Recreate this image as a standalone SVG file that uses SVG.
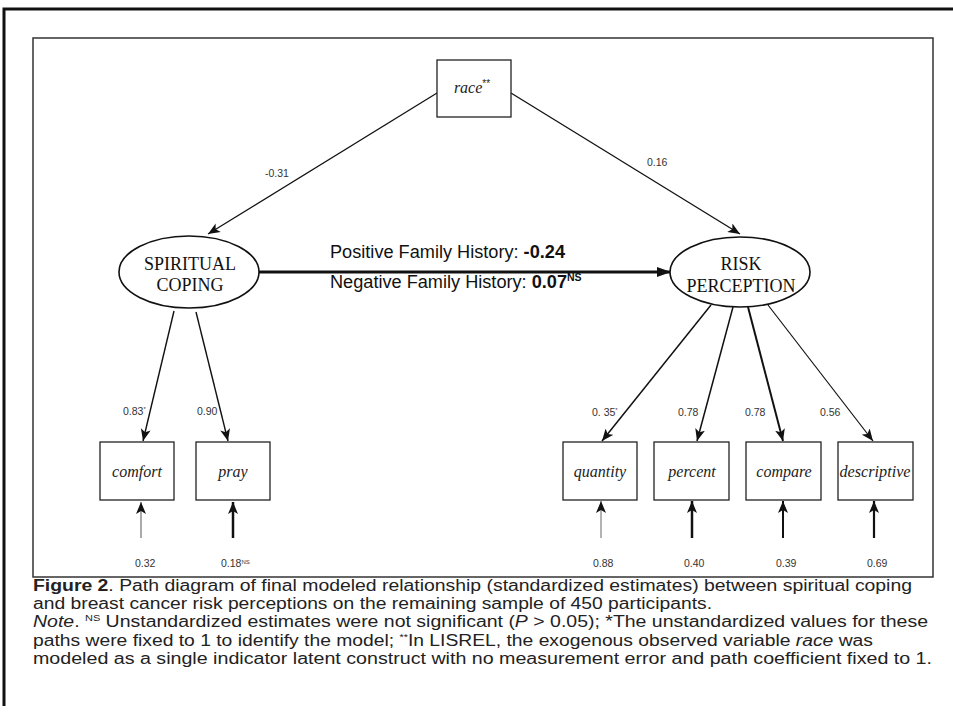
<svg xmlns="http://www.w3.org/2000/svg" width="953" height="717" viewBox="0 0 953 717">
<style>
.box{fill:#fff;stroke:#222;stroke-width:1.3}
.ell{fill:#fff;stroke:#111;stroke-width:1.6}
.obs{font-family:"Liberation Serif",serif;font-style:italic;font-size:16px;fill:#222;text-anchor:middle}
.lat{font-family:"Liberation Serif",serif;font-size:18px;fill:#111;text-anchor:middle}
.coef{font-family:"Liberation Sans",Arial,sans-serif;font-size:10.5px;fill:#333}
.mid{font-family:"Liberation Sans",Arial,sans-serif;font-size:17.5px;fill:#111}
.cap{font-family:"Liberation Sans",Arial,sans-serif;font-size:16px;fill:#222}
.ln{stroke:#111;fill:none}
</style>
<defs>
<marker id="ah" viewBox="0 0 12 10" refX="12" refY="5" markerWidth="12" markerHeight="10" markerUnits="userSpaceOnUse" orient="auto"><path d="M0,0 L12,5 L0,10 L3,5 z" fill="#111"/></marker>
<marker id="ahb" viewBox="0 0 14 10" refX="14" refY="5" markerWidth="14" markerHeight="10" markerUnits="userSpaceOnUse" orient="auto"><path d="M0,0 L14,5 L0,10 z" fill="#111"/></marker>
</defs>
<rect width="953" height="717" fill="#fff"/>
<path d="M953,9 H4 V706" fill="none" stroke="#111" stroke-width="3"/>
<rect x="33" y="38" width="900" height="539" fill="none" stroke="#333" stroke-width="1.5"/>

<g id="connectors">
<line class="ln" x1="437" y1="93" x2="208" y2="234" stroke-width="1.3" marker-end="url(#ah)"/>
<line class="ln" x1="511" y1="93" x2="740" y2="234" stroke-width="1.3" marker-end="url(#ah)"/>
<line class="ln" x1="259" y1="272" x2="671" y2="272" stroke-width="3" marker-end="url(#ahb)"/>
<line class="ln" x1="174" y1="311" x2="143" y2="441" stroke-width="1.4" marker-end="url(#ah)"/>
<line class="ln" x1="196" y1="312" x2="228" y2="441" stroke-width="1.4" marker-end="url(#ah)"/>
<line class="ln" x1="711" y1="305" x2="602" y2="441" stroke-width="1.5" marker-end="url(#ah)"/>
<line class="ln" x1="733" y1="307" x2="697" y2="441" stroke-width="1.5" marker-end="url(#ah)"/>
<line class="ln" x1="748" y1="307" x2="783" y2="441" stroke-width="2" marker-end="url(#ah)"/>
<line class="ln" x1="768" y1="305" x2="873" y2="441" stroke-width="1.2" marker-end="url(#ah)"/>
<line x1="141" y1="538" x2="141" y2="502" stroke="#555" stroke-width="1" marker-end="url(#ah)"/>
<line class="ln" x1="233" y1="538" x2="233" y2="502" stroke-width="2.5" marker-end="url(#ah)"/>
<line x1="601" y1="538" x2="601" y2="501" stroke="#666" stroke-width="1" marker-end="url(#ah)"/>
<line class="ln" x1="692" y1="538" x2="692" y2="501" stroke-width="2.5" marker-end="url(#ah)"/>
<line class="ln" x1="783" y1="538" x2="783" y2="501" stroke-width="2" marker-end="url(#ah)"/>
<line class="ln" x1="874" y1="538" x2="874" y2="501" stroke-width="2.2" marker-end="url(#ah)"/>
<text class="coef" x="265" y="177">-0.31</text>
<text class="coef" x="647" y="166">0.16</text>
<text class="coef" x="123" y="415">0.83<tspan font-size="6" dy="-4">*</tspan></text>
<text class="coef" x="197" y="415">0.90</text>
<text class="coef" x="592" y="416">0. 35<tspan font-size="6" dy="-4">*</tspan></text>
<text class="coef" x="678" y="416">0.78</text>
<text class="coef" x="745" y="416">0.78</text>
<text class="coef" x="820" y="416">0.56</text>
<text class="coef" x="135" y="567">0.32</text>
<text class="coef" x="221" y="567">0.18<tspan font-size="6" dy="-3">NS</tspan></text>
<text class="coef" x="593" y="567">0.88</text>
<text class="coef" x="684" y="567">0.40</text>
<text class="coef" x="776" y="567">0.39</text>
<text class="coef" x="867" y="567">0.69</text>
<text class="mid" x="330" y="258" textLength="235" lengthAdjust="spacingAndGlyphs">Positive Family History: <tspan font-weight="bold">-0.24</tspan></text>
<text class="mid" x="330" y="288"><tspan textLength="237" lengthAdjust="spacingAndGlyphs">Negative Family History: <tspan font-weight="bold">0.07</tspan></tspan><tspan font-weight="bold" font-size="10.5" dy="-7">NS</tspan></text>
</g>

<g id="race"><rect class="box" x="437" y="60" width="74" height="57"/><text class="obs" x="472" y="93">race<tspan font-style="normal" font-family="Liberation Sans,sans-serif" font-size="10" dy="-6">**</tspan></text></g>
<g id="spiritual-coping"><ellipse class="ell" cx="189" cy="272" rx="70" ry="36"/><text class="lat" x="190" y="270">SPIRITUAL</text><text class="lat" x="190" y="291">COPING</text></g>
<g id="risk-perception"><ellipse class="ell" cx="740" cy="272" rx="70" ry="35"/><text class="lat" x="741" y="270">RISK</text><text class="lat" x="741" y="292">PERCEPTION</text></g>
<g id="comfort"><rect class="box" x="100" y="442" width="74" height="58"/><text class="obs" x="137" y="477">comfort</text></g>
<g id="pray"><rect class="box" x="196" y="442" width="74" height="58"/><text class="obs" x="233" y="477">pray</text></g>
<g id="quantity"><rect class="box" x="563" y="442" width="74" height="58"/><text class="obs" x="600" y="477">quantity</text></g>
<g id="percent"><rect class="box" x="654" y="442" width="75" height="58"/><text class="obs" x="692" y="477">percent</text></g>
<g id="compare"><rect class="box" x="746" y="442" width="75" height="58"/><text class="obs" x="784" y="477">compare</text></g>
<g id="descriptive"><rect class="box" x="838" y="442" width="75" height="58"/><text class="obs" x="875" y="477" textLength="71" lengthAdjust="spacingAndGlyphs">descriptive</text></g>

<g id="caption">
<text class="cap" x="33" y="591" textLength="879" lengthAdjust="spacingAndGlyphs"><tspan font-weight="bold">Figure 2</tspan>.  Path diagram of final modeled relationship (standardized estimates) between spiritual coping</text>
<text class="cap" x="33" y="609" textLength="679" lengthAdjust="spacingAndGlyphs">and breast cancer risk perceptions on the remaining sample of 450 participants.</text>
<text class="cap" x="33" y="627" textLength="895" lengthAdjust="spacingAndGlyphs"><tspan font-style="italic">Note</tspan>.  <tspan font-size="9" dy="-6">NS</tspan><tspan dy="6"> Unstandardized estimates were not significant (</tspan><tspan font-style="italic">P</tspan> &gt; 0.05); *The unstandardized values for these</text>
<text class="cap" x="33" y="646" textLength="840" lengthAdjust="spacingAndGlyphs">paths were fixed to 1 to identify the model; <tspan font-size="9" dy="-6">**</tspan><tspan dy="6">In LISREL, the exogenous observed variable </tspan><tspan font-style="italic">race</tspan> was</text>
<text class="cap" x="33" y="664" textLength="899" lengthAdjust="spacingAndGlyphs">modeled as a single indicator latent construct with no measurement error and path coefficient fixed to 1.</text>
</g>
</svg>
